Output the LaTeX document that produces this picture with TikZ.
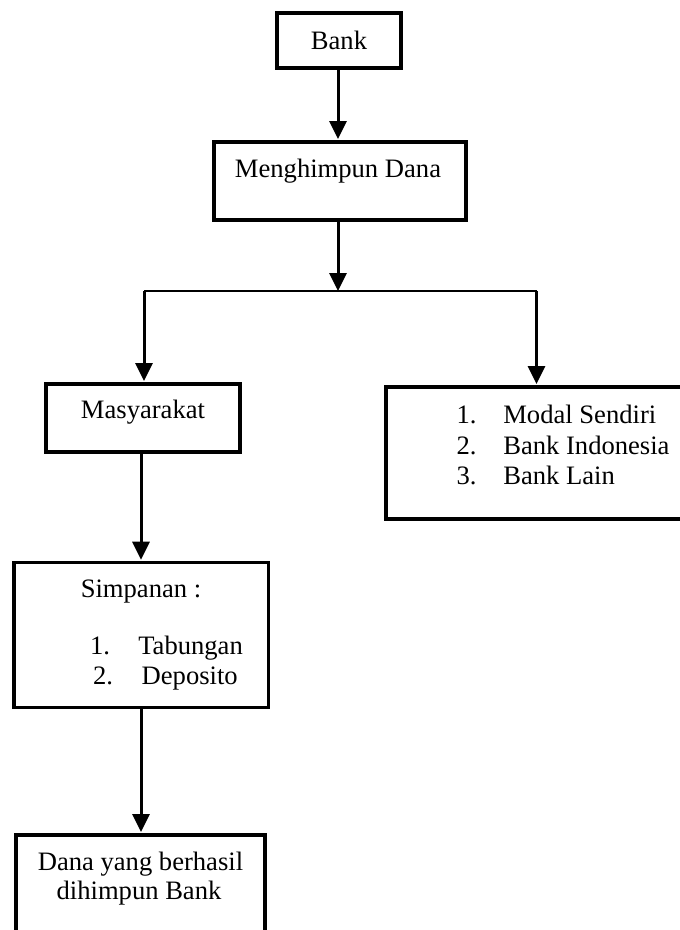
\documentclass[tikz,border=0pt]{standalone}
\usepackage{fontspec}
\setmainfont{Liberation Serif}
\usetikzlibrary{arrows.meta}
\begin{document}
\begin{tikzpicture}[x=1pt,y=-1pt,
  box/.style={draw,line width=3.3pt,minimum width=#1,inner sep=0pt,outer sep=0pt},
  txt/.style={inner sep=0pt,outer sep=0pt,anchor=base,font=\fontsize{26.6pt}{30.5pt}\selectfont},
  txtl/.style={txt,anchor=base west},
  arr/.style={line width=3pt,-{Triangle[width=17pt,length=18pt]},shorten >=3pt},
  hline/.style={line width=2pt}]
\useasboundingbox (0,0) rectangle (680,930);
% boxes
\node[box=124pt,minimum height=55pt] (bank) at (339,40.5) {};
\node[box=252pt,minimum height=78pt] (mh) at (340,181) {};
\node[box=194pt,minimum height=68pt] (masy) at (143,418) {};
\node[box=304pt,minimum height=132pt] (src) at (538,453) {};
\node[box=254.7pt,minimum height=145pt] (simp) at (141.3,635.2) {};
\node[box=249pt,minimum height=125pt] (dana) at (140.5,897.5) {};
% texts
\node[txt] (tbank) at (339,49) {Bank};
\node[txt] (tmh) at (338,177) {Menghimpun Dana};
\node[txt] (tmasy) at (143,418) {Masyarakat};
\node[txtl] (n1) at (456.5,423) {1.};
\node[txtl] (s1) at (503.3,423) {Modal Sendiri};
\node[txtl] (n2) at (456.5,454) {2.};
\node[txtl] (s2) at (503.3,454) {Bank Indonesia};
\node[txtl] (n3) at (456.5,484) {3.};
\node[txtl] (s3) at (503.3,484) {Bank Lain};
\node[txt] (tsimp) at (141,597) {Simpanan :};
\node[txtl] (m1) at (90,654) {1.};
\node[txtl] (k1) at (138.3,654) {Tabungan};
\node[txtl] (m2) at (93,684) {2.};
\node[txtl] (k2) at (141.7,684) {Deposito};
\node[txt] (td1) at (140.5,870) {Dana yang berhasil};
\node[txt] (td2) at (139,899) {dihimpun Bank};
% junction
\coordinate (jc) at (338,291);
\coordinate (jl) at (144,291);
\coordinate (jr) at (536.5,291);
% connectors
\draw[arr] (bank.south -| 338,0) -- (mh.north -| 338,0);
\draw[arr,shorten >=0pt] (mh.south -| jc) -- (jc);
\draw[hline] (jl) -- (jr);
\draw[arr] (jl) -- (jl |- masy.north);
\draw[arr] (jr) -- (jr |- src.north);
\draw[arr] (masy.south -| 141,0) -- (simp.north -| 141,0);
\draw[arr] (simp.south -| 141,0) -- (dana.north -| 141,0);
\end{tikzpicture}
\end{document}
